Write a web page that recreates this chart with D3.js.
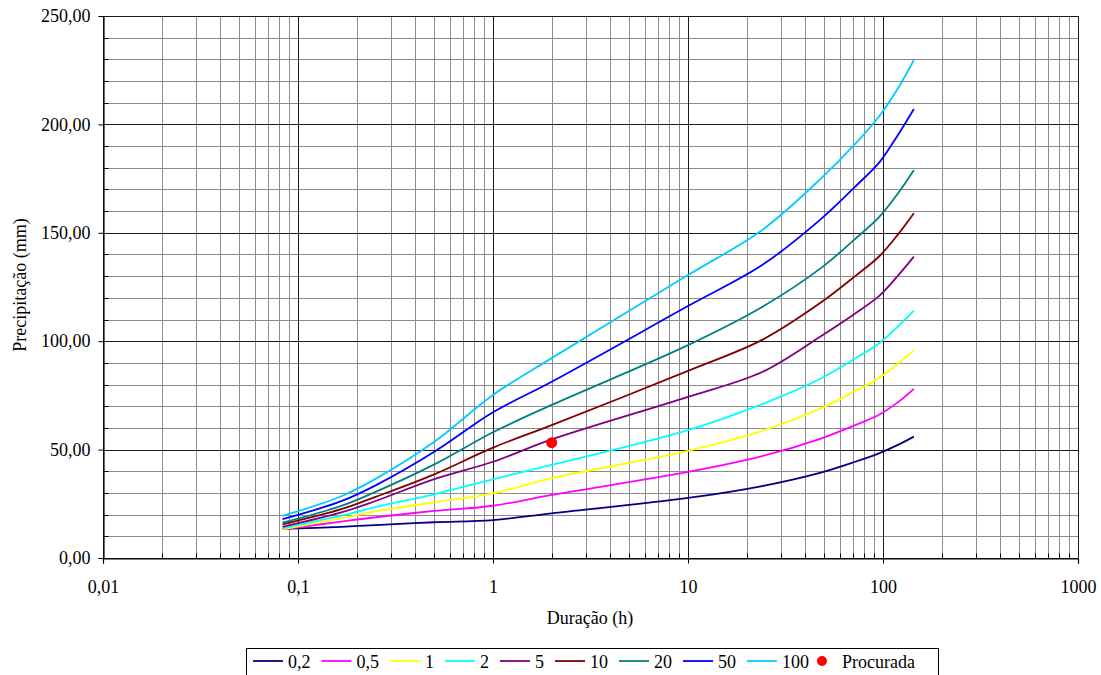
<!DOCTYPE html>
<html><head><meta charset="utf-8">
<script src="https://cdn.jsdelivr.net/npm/d3@7"></script>
<style>body{margin:0;background:#fff}svg{display:block}svg text{font-family:"Liberation Serif",serif !important;fill:#000}</style>
</head><body>
<script>
// ---- data ----
const durations = [1/12, 1/6, 1/4, 1/2, 1, 2, 10, 24, 48, 72, 96, 120, 144];
const seriesNames = ["0,2","0,5","1","2","5","10","20","50","100"];
const seriesColors = ["#000080","#ff00ff","#ffff00","#00ffff","#800080","#800000","#008080","#0000ff","#00ccff"];
const s0_2  = [13.4, 14.4, 15.2, 16.5, 17.5, 20.6, 27.7, 33.2, 39.4, 44.4, 48.4, 52.3, 56.0];
const s0_5  = [13.2, 16.8, 18.8, 21.7, 24.1, 29.1, 39.7, 47.0, 55.1, 61.3, 66.2, 72.0, 78.0];
const s1    = [13.2, 18.3, 21.5, 25.7, 29.8, 36.8, 49.4, 58.6, 69.0, 77.0, 83.2, 89.8, 95.9];
const s2    = [13.7, 19.5, 23.5, 29.4, 36.3, 42.9, 59.0, 71.0, 82.8, 92.0, 99.2, 107.0, 114.1];
const s5    = [14.4, 21.0, 26.3, 36.4, 44.4, 54.7, 74.3, 85.8, 102.3, 112.8, 121.0, 130.5, 139.0];
const s10   = [15.5, 22.5, 28.2, 38.6, 50.9, 61.3, 86.3, 100.6, 117.8, 130.0, 139.3, 149.5, 159.0];
const s20   = [16.3, 24.0, 30.5, 43.2, 58.0, 70.6, 98.2, 115.8, 133.7, 147.2, 157.5, 168.5, 179.0];
const s50   = [17.9, 26.2, 33.5, 49.0, 67.2, 81.3, 116.2, 135.1, 156.3, 171.3, 182.6, 195.5, 207.1];
const s100  = [19.4, 28.5, 36.5, 53.6, 75.2, 92.2, 130.5, 151.3, 175.0, 191.0, 204.0, 217.0, 229.7];
const seriesValues = [s0_2, s0_5, s1, s2, s5, s10, s20, s50, s100];
const pointX = [2];
const pointY = [53.2];
const xTickLabels = ["0,01","0,1","1","10","100","1000"];
const xTickValues = [0.01, 0.1, 1, 10, 100, 1000];
const yTickValues = [0, 50, 100, 150, 200, 250];
const yTickLabels = ["0,00","50,00","100,00","150,00","200,00","250,00"];

// ---- layout ----
const FONT = "'Liberation Serif', serif";
const W = 1101, H = 675;
const svg = d3.select("body").append("svg").attr("width", W).attr("height", H).attr("font-family", FONT);
const x = d3.scaleLog().domain([0.01, 1000]).range([103, 1078]);
const y = d3.scaleLinear().domain([0, 250]).range([558, 16]);

const grid = svg.append("g");
const minorX = [];
for (let d = 0.01; d < 999; d *= 10) for (let k = 2; k <= 9; k++) minorX.push(d * k);
grid.selectAll(".mvx").data(minorX).enter().append("line")
  .attr("x1", d => Math.round(x(d)) + 0.5).attr("x2", d => Math.round(x(d)) + 0.5)
  .attr("y1", y(250)).attr("y2", y(0)).attr("stroke", "#8c8c8c").attr("stroke-width", 1);
const minorY = d3.range(10, 250, 10).filter(v => v % 50 !== 0);
grid.selectAll(".mhy").data(minorY).enter().append("line")
  .attr("x1", x(0.01)).attr("x2", x(1000))
  .attr("y1", d => Math.round(y(d)) + 0.5).attr("y2", d => Math.round(y(d)) + 0.5)
  .attr("stroke", "#8c8c8c").attr("stroke-width", 1);
grid.selectAll(".Mvx").data(xTickValues).enter().append("line")
  .attr("x1", d => Math.round(x(d)) + 0.5).attr("x2", d => Math.round(x(d)) + 0.5)
  .attr("y1", y(250)).attr("y2", y(0)).attr("stroke", "#1a1a1a").attr("stroke-width", 1);
grid.selectAll(".Mhy").data(yTickValues).enter().append("line")
  .attr("x1", x(0.01)).attr("x2", x(1000))
  .attr("y1", d => Math.round(y(d)) + 0.5).attr("y2", d => Math.round(y(d)) + 0.5)
  .attr("stroke", "#1a1a1a").attr("stroke-width", 1);

// axes
const xAxis = d3.axisBottom(x).tickValues(xTickValues).tickFormat((d, i) => xTickLabels[i]).tickSizeOuter(0).tickSize(5).tickPadding(17);
const gx = svg.append("g").attr("transform", `translate(0,${Math.round(y(0)) + 0.5})`).call(xAxis);
const yAxis = d3.axisLeft(y).tickValues(yTickValues).tickFormat((d, i) => yTickLabels[i]).tickSizeOuter(0).tickSize(5).tickPadding(8);
const gy = svg.append("g").attr("transform", `translate(${Math.round(x(0.01)) + 0.5},0)`).call(yAxis);
[gx, gy].forEach(g => {
  g.attr("font-family", FONT).attr("font-size", 18);
  g.select(".domain").attr("stroke", "#000").attr("stroke-width", 1.2);
  g.selectAll(".tick line").attr("stroke", "#000");
  g.selectAll("text").attr("font-size", 18).attr("font-family", FONT);
});
svg.append("g").selectAll("line").data(minorY).enter().append("line")
  .attr("x1", Math.round(x(0.01)) + 0.5).attr("x2", Math.round(x(0.01)) + 5.5)
  .attr("y1", d => Math.round(y(d)) + 0.5).attr("y2", d => Math.round(y(d)) + 0.5).attr("stroke", "#000");
svg.append("g").selectAll("line").data(minorX).enter().append("line")
  .attr("x1", d => Math.round(x(d)) + 0.5).attr("x2", d => Math.round(x(d)) + 0.5)
  .attr("y1", Math.round(y(0)) + 0.5).attr("y2", Math.round(y(0)) - 4.5).attr("stroke", "#000");

// axis titles
svg.append("text").attr("x", 590).attr("y", 624).attr("text-anchor", "middle").attr("font-size", 18).attr("font-family", FONT).text("Duração (h)");
svg.append("text").attr("transform", "translate(26,285) rotate(-90)").attr("text-anchor", "middle").attr("font-size", 18).attr("font-family", FONT).text("Precipitação (mm)");

// series
const line = d3.line().x(d => x(d[0])).y(d => y(d[1])).curve(d3.curveCatmullRom.alpha(0.5));
seriesValues.forEach((vals, i) => {
  svg.append("path").datum(durations.map((t, j) => [t, vals[j]]))
    .attr("d", line).attr("fill", "none").attr("stroke", seriesColors[i]).attr("stroke-width", 1.8);
});
svg.selectAll(".pt").data(pointX).enter().append("circle")
  .attr("cx", d => x(d)).attr("cy", (d, i) => y(pointY[i])).attr("r", 5.5).attr("fill", "#ff0000");

// legend
const lg = svg.append("g").attr("font-family", FONT);
lg.append("rect").attr("x", 246.5).attr("y", 648.5).attr("width", 692).attr("height", 40).attr("fill", "#fff").attr("stroke", "#000");
let lx = 253;
const ly = 661;
seriesNames.forEach((n, i) => {
  lg.append("line").attr("x1", lx).attr("x2", lx + 30).attr("y1", ly).attr("y2", ly).attr("stroke", seriesColors[i]).attr("stroke-width", 1.8);
  const t = lg.append("text").attr("x", lx + 35).attr("y", ly + 6.5).attr("font-size", 18).attr("font-family", FONT).text(n);
  lx += 35 + t.node().getComputedTextLength() + 11;
});
lg.append("circle").attr("cx", lx + 2).attr("cy", ly).attr("r", 5).attr("fill", "#ff0000");
lg.append("text").attr("x", lx + 22).attr("y", ly + 6.5).attr("font-size", 18).attr("font-family", FONT).text("Procurada");
</script>
</body></html>
